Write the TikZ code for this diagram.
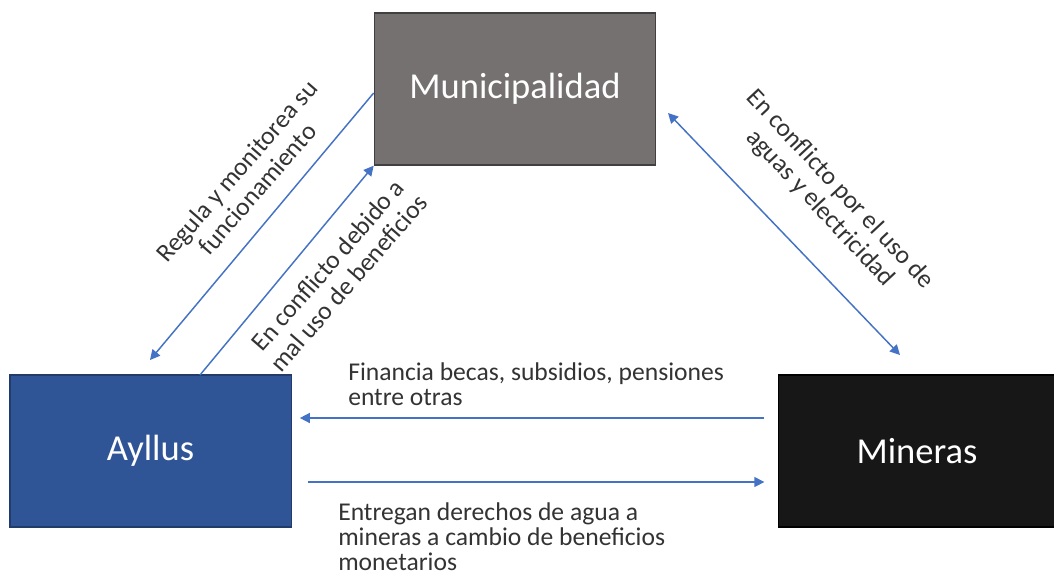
\documentclass[tikz,border=0pt]{standalone}
\usepackage{fontspec}
\setmainfont{Carlito}
\usetikzlibrary{arrows.meta}
\definecolor{munigray}{HTML}{767171}
\definecolor{ayllublue}{HTML}{2F5597}
\definecolor{minerblack}{HTML}{171717}
\definecolor{flowblue}{HTML}{4472C4}
\definecolor{notegray}{HTML}{333333}
\tikzset{
    actor/.style={rectangle,draw,line width=1pt,text=white,
        minimum width=211pt,minimum height=114pt,
        font=\fontsize{27.4pt}{32pt}\selectfont},
    flow/.style={draw=flowblue,line width=1.1pt,
        -{Triangle[length=7.5pt,width=7.5pt]}},
    both/.style={{Triangle[length=7.5pt,width=7.5pt]}-{Triangle[length=7.5pt,width=7.5pt]}},
    note/.style={text=notegray,align=center,inner sep=0pt,
        font=\fontsize{19.2pt}{20.5pt}\selectfont},
    sidenote/.style={note,align=left,
        font=\fontsize{19.2pt}{19pt}\selectfont}
}
\begin{document}
    \begin{tikzpicture}[x=0.75pt,y=-0.75pt]
        \useasboundingbox (0,0) rectangle (1054,575);
        \begin{scope}[every node/.style={actor}]
            \node[fill=munigray,draw=black!75] (muni) at (515,89) {Municipalidad};
            \node[fill=ayllublue,draw=ayllublue!70!black] (ayllus) at (150.5,451) {Ayllus};
            \node[fill=minerblack,draw=black,minimum width=208pt] (mineras) at (917,451) {Mineras};
        \end{scope}
        \coordinate (regula-end) at (150,360);
        \coordinate (debido-start) at (200,375);
        \coordinate (agua-a) at (668,113);
        \coordinate (agua-b) at (900,355);
        \begin{scope}[every edge/.style={flow}]
            \path
                ([yshift=-3pt]muni.west) edge (regula-end)
                (debido-start) edge (muni.south west)
                (agua-a) edge [both] (agua-b)
                ([yshift=24.75pt]mineras.west) edge [shorten <=10pt,shorten >=6pt] ([yshift=24.75pt]ayllus.east)
                ([yshift=-23.25pt]ayllus.east) edge [shorten <=12pt,shorten >=10pt] ([yshift=-23.25pt]mineras.west);
        \end{scope}
        % labels on the connectors
        \node[note,rotate=49] (regula) at (247,180) {Regula y monitorea su\\funcionamiento};
        \node[note,rotate=49] (debido) at (338,274) {En conflicto debido a\\mal uso de beneficios};
        \node[note,rotate=-47] (agua) at (830,199) {En conflicto por el uso de\\aguas y electricidad};
        \node[sidenote,anchor=north west] (financia) at (348,362) {Financia becas, subsidios, pensiones\\entre otras};
        \node[sidenote,anchor=north west] (entregan) at (338,502) {Entregan derechos de agua a\\mineras a cambio de beneficios\\monetarios};
    \end{tikzpicture}
\end{document}
